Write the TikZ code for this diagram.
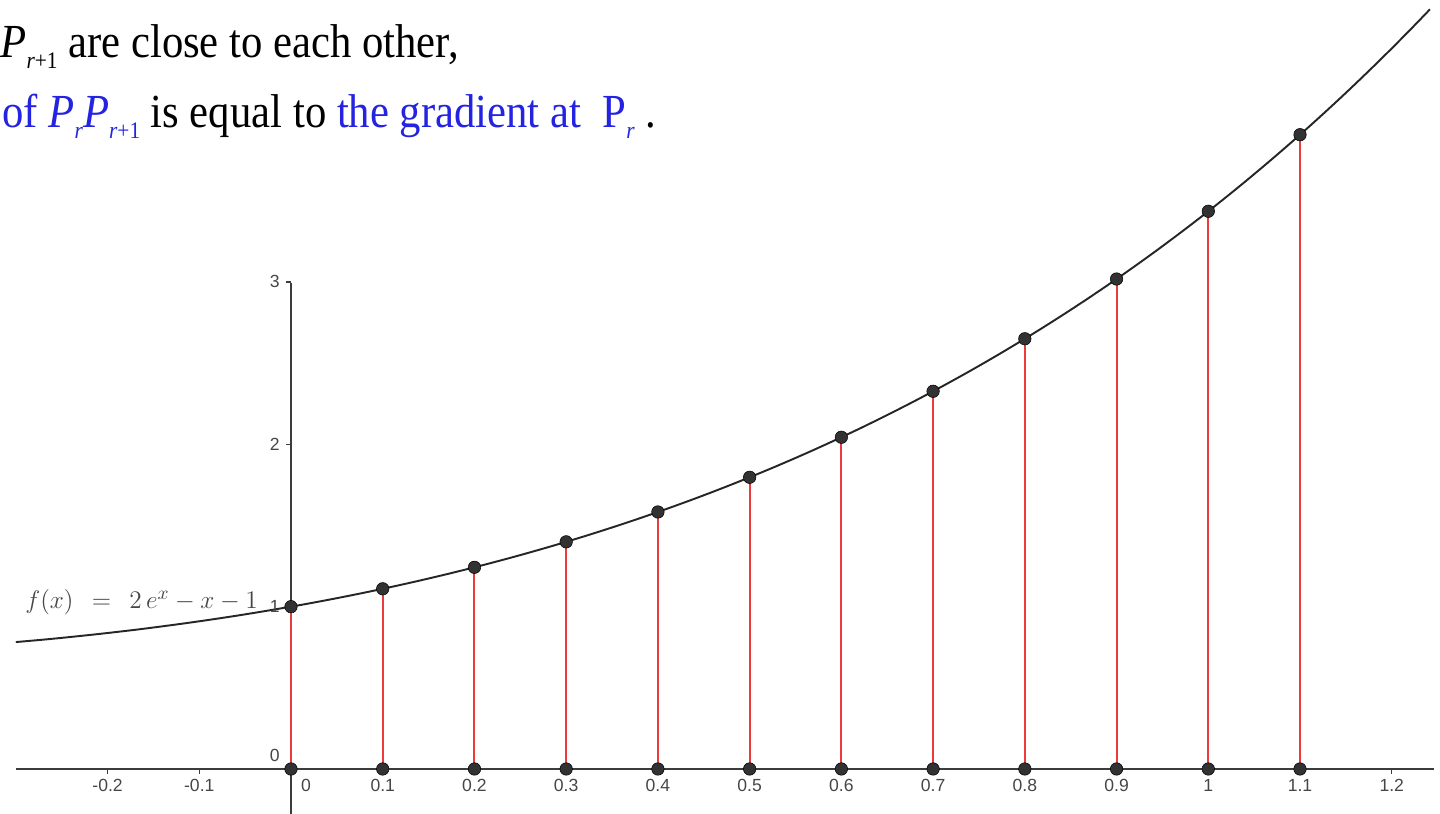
\documentclass[tikz,border=0pt]{standalone}
\usepackage{fontspec}
\newfontfamily\tnr[FakeStretch=0.9]{Liberation Serif}
\newfontfamily\arialf{Liberation Sans}
\definecolor{txtblue}{RGB}{35,35,225}
\definecolor{stemred}{RGB}{235,60,60}
\definecolor{axisgray}{RGB}{60,60,60}
\definecolor{labgray}{RGB}{70,70,70}
\definecolor{dotgray}{RGB}{50,50,50}
\newcommand{\smallsub}[1]{\raisebox{-6pt}{\fontsize{13.5}{13.5}\selectfont #1}}
\begin{document}
\begin{tikzpicture}[x=18.346cm,y=3.246cm,
  axisline/.style={draw=axisgray, line width=1.1pt},
  tickline/.style={draw=axisgray, line width=0.8pt},
  curveline/.style={draw=black!85, line width=1.1pt},
  stem/.style={draw=stemred, line width=1.1pt},
  dot/.style={circle, fill=dotgray, draw=black, line width=0.3pt, inner sep=0pt, minimum size=0.25cm},
  ticklab/.style={font=\arialf\fontsize{10}{12}\selectfont, text=labgray, inner sep=0pt},
  headtext/.style={font=\tnr\fontsize{27}{32}\selectfont, inner sep=0pt},
  funclab/.style={font=\fontsize{15.2}{18}\selectfont, text=labgray, inner sep=0pt}
  ]
\useasboundingbox (-0.31724,-0.27726) rectangle (1.25259,4.73814);

% axes
\coordinate (xl) at (-0.2998,0);
\coordinate (xr) at (1.246,0);
\coordinate (yb) at (0,-0.28);
\coordinate (yt) at (0,2.994);
\draw[axisline] (xl) -- (xr);
\draw[axisline] (yb) -- (yt);

% ticks
\foreach \k in {-2,-1,12}{
  \coordinate (tka\k) at (\k/10,0);
  \coordinate (tkb\k) at (\k/10,-0.032);
  \draw[tickline] (tka\k) -- (tkb\k);
}
\foreach \t in {2,3}{
  \coordinate (tya\t) at (0,\t);
  \coordinate (tyb\t) at (-0.0055,\t);
  \draw[tickline] (tya\t) -- (tyb\t);
}

% points
\foreach \i in {0,...,11}{
  \pgfmathsetmacro{\xx}{\i/10}
  \coordinate (a\i) at (\xx,0);
  \coordinate (b\i) at (\xx,{2*exp(\xx)-\xx-1});
  \draw[stem] (a\i) -- (b\i);
}

% curve
\draw[curveline, domain=-0.3:1.2417, samples=120, smooth] plot (\x,{2*exp(\x)-\x-1});

\foreach \i in {0,...,11}{
  \node[dot] (A\i) at (a\i) {};
  \node[dot] (B\i) at (b\i) {};
}

% tick labels
\foreach \i/\lab in {-2/-0.2,-1/-0.1,1/0.1,2/0.2,3/0.3,4/0.4,5/0.5,6/0.6,7/0.7,8/0.8,9/0.9,10/1,11/1.1,12/1.2}{
  \node[ticklab, anchor=base] (xlab\i) at (\i/10,-0.1417) {\lab};
}
\node[ticklab, anchor=base] (xlab0) at (0.0164,-0.1417) {0};
\node[ticklab, anchor=base east] (ylab0) at (-0.0120,0.045) {0};
\node[ticklab, anchor=base east] (ylab1) at (-0.0120,0.965) {1};
\node[ticklab, anchor=base east] (ylab2) at (-0.0120,1.965) {2};
\node[ticklab, anchor=base east] (ylab3) at (-0.0120,2.965) {3};

% function label
\node[funclab, anchor=base west] (flab) at (-0.2900,0.9858) {$f(x)\;\,=\;\,2\,e^{x}-x-1$};

% heading text
\node[headtext, anchor=base east] (h1a) at (-0.2540,4.3808) {\textit{P}\smallsub{\textit{r}+1}};
\node[headtext, anchor=base west] (h1b) at (-0.2431,4.3808) {are close to each other,};
\node[headtext, anchor=base west] (h2) at (-0.3151,3.9495) {{\color{txtblue}of \textit{P}\smallsub{\textit{r}}\textit{P}\smallsub{\textit{r}+1}} is equal to {\color{txtblue}the gradient at\ \ P\smallsub{\textit{r}}}\ .};
\end{tikzpicture}
\end{document}
